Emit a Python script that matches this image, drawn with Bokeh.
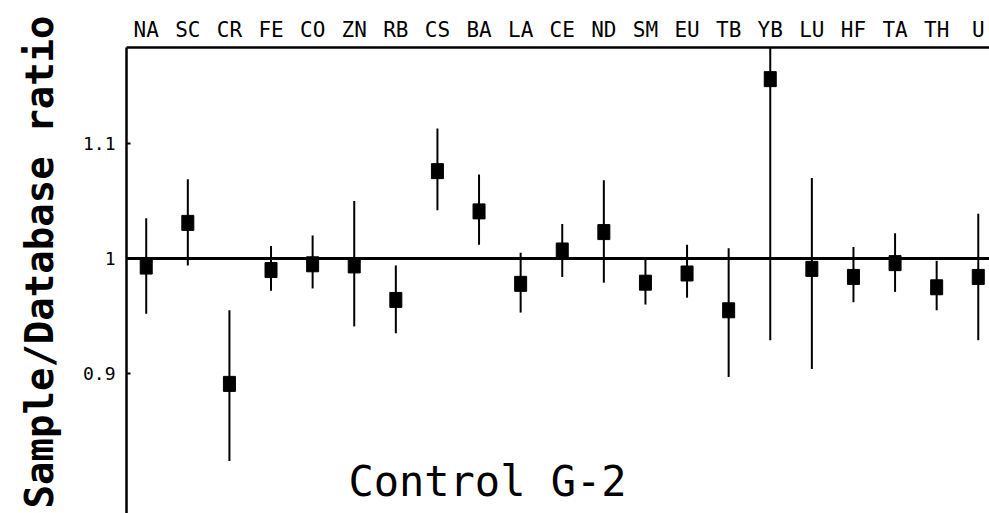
from bokeh.embed import file_html
from bokeh.models import (ColumnDataSource, FixedTicker, Label, LinearAxis,
                          Range1d, Span, Title)
from bokeh.plotting import figure
from bokeh.resources import INLINE

# Elements measured in the control sample, in plotting order
elements = ["NA", "SC", "CR", "FE", "CO", "ZN", "RB", "CS", "BA", "LA", "CE",
            "ND", "SM", "EU", "TB", "YB", "LU", "HF", "TA", "TH", "U"]

# Sample / database concentration ratio
ratio = [0.993, 1.031, 0.891, 0.990, 0.995, 0.994, 0.964, 1.076, 1.041, 0.978, 1.007,
         1.023, 0.979, 0.987, 0.955, 1.156, 0.991, 0.984, 0.996, 0.975, 0.984]

# Upper and lower ends of the uncertainty bars
upper = [1.035, 1.069, 0.955, 1.011, 1.020, 1.050, 0.994, 1.113, 1.073, 1.005, 1.030,
         1.068, 0.999, 1.012, 1.009, 1.383, 1.070, 1.010, 1.022, 0.998, 1.039]
lower = [0.952, 0.994, 0.824, 0.972, 0.974, 0.941, 0.935, 1.042, 1.012, 0.953, 0.984,
         0.979, 0.960, 0.966, 0.897, 0.929, 0.904, 0.962, 0.971, 0.955, 0.929]

y_ticks = [0.9, 1.0, 1.1]
title_text = "Control G-2"
y_title = "Sample/Database ratio"

MONO = "DejaVu Sans Mono"

pos = list(range(len(elements)))
src = ColumnDataSource(dict(x=pos, el=elements, r=ratio, hi=upper, lo=lower))

p = figure(width=989, height=513, output_backend="svg", toolbar_location=None,
           x_range=Range1d(-0.474, 20.27), y_range=Range1d(0.7783, 1.1835),
           x_axis_type=None, y_axis_type=None,
           min_border_left=126, min_border_top=47, min_border_right=0,
           min_border_bottom=0)
p.outline_line_color = None
p.background_fill_color = "white"
p.border_fill_color = "white"

# Element names along the top
top_axis = LinearAxis(ticker=FixedTicker(ticks=pos),
                      major_label_overrides={i: e for i, e in enumerate(elements)})
top_axis.axis_line_width = 2.5
top_axis.axis_line_color = "black"
top_axis.major_tick_line_color = None
top_axis.minor_tick_line_color = None
top_axis.major_label_standoff = 0
top_axis.major_label_text_font = MONO
top_axis.major_label_text_font_size = "21px"
top_axis.major_label_text_color = "black"
p.add_layout(top_axis, "above")

# Ratio scale on the left
left_axis = LinearAxis(ticker=FixedTicker(ticks=y_ticks),
                       major_label_overrides={0.9: "0.9", 1: "1", 1.1: "1.1"})
left_axis.axis_line_width = 2.5
left_axis.axis_line_color = "black"
left_axis.major_tick_in = 4
left_axis.major_tick_out = 0
left_axis.major_tick_line_width = 2
left_axis.minor_tick_line_color = None
left_axis.major_label_standoff = 11
left_axis.major_label_text_font = MONO
left_axis.major_label_text_font_size = "18px"
left_axis.major_label_text_color = "black"
p.add_layout(left_axis, "left")

# Vertical axis title, set beside the ratio scale
p.add_layout(Title(text=y_title, align="left", offset=5, standoff=32,
                   vertical_align="top",
                   text_font=MONO, text_font_style="bold", text_font_size="39px",
                   text_color="black"), "left")

# Reference line at unit ratio
p.add_layout(Span(location=1.0, dimension="width", line_color="black", line_width=3))

# Uncertainty bars and measured ratios
p.segment(x0="x", y0="lo", x1="x", y1="hi", source=src, line_color="black", line_width=2)
p.rect(x="x", y="r", width=12, height=15, width_units="screen", height_units="screen",
       source=src, fill_color="black", line_color="black")

# Sample name inside the frame
p.add_layout(Label(x=361, y=32, x_units="screen", y_units="screen", text=title_text,
                   text_align="center", text_baseline="alphabetic",
                   text_font=MONO, text_font_size="42px", text_color="black"))

open("out.html", "w").write(file_html(p, INLINE))
